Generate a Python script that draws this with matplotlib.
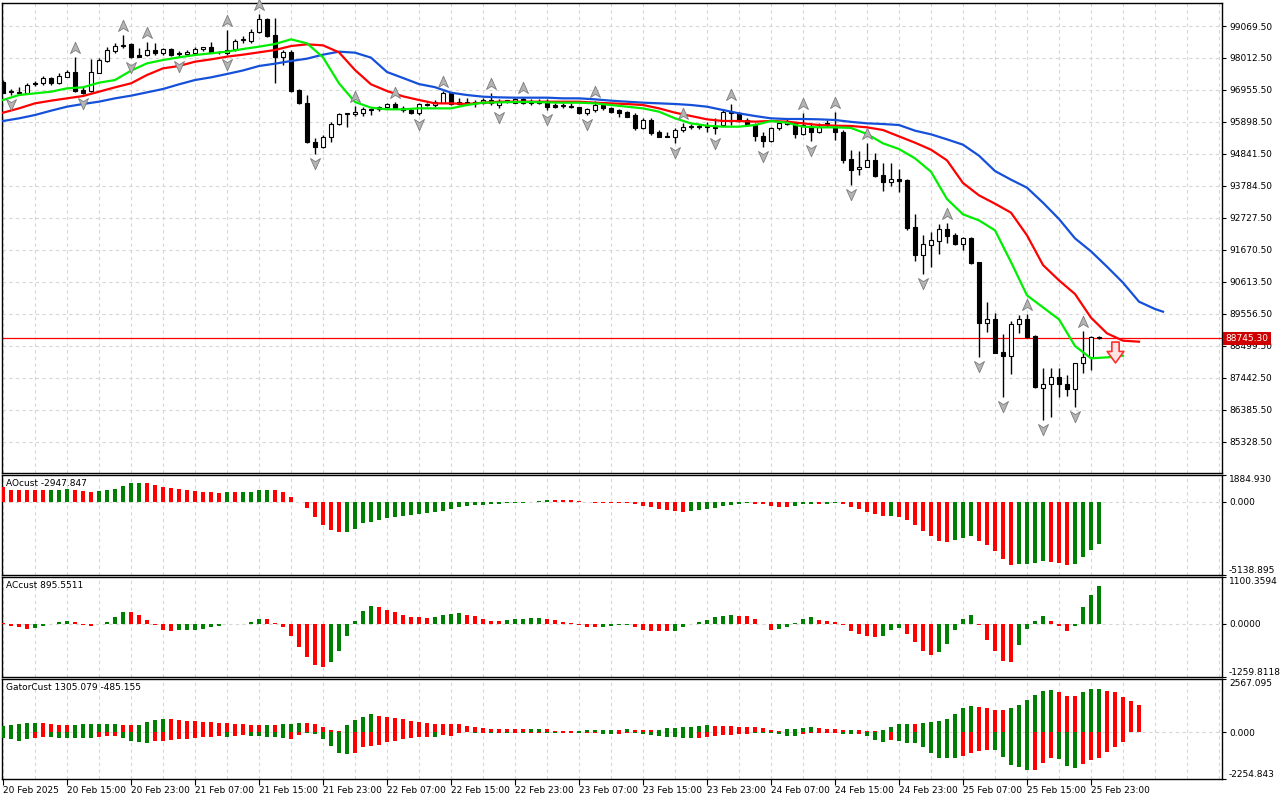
import numpy as np
import matplotlib
matplotlib.use("Agg")
import matplotlib.pyplot as plt
from matplotlib.path import Path
from matplotlib.transforms import offset_copy, blended_transform_factory

# hourly bars, 20 Feb 2025 07:00 .. 26 Feb 00:00
open_ = [97229, 96890, 96880, 96865, 97196, 97174, 97339, 97174, 97394, 97560,
         96953, 96931, 97527, 97923, 98254, 98440, 98463, 98111, 98111, 98276,
         98188, 98298, 98166, 98144, 98188, 98298, 98364, 98221, 98188, 98298,
         98600, 98585, 98882, 99290, 98772, 98056, 98221, 96953, 96513, 95245,
         95058, 95389, 95830, 96170, 96149, 96204, 96293, 96326, 96381, 96491,
         96347, 96293, 96204, 96491, 96457, 96534, 96843, 96556, 96490, 96556,
         96534, 96622, 96457, 96600, 96534, 96645, 96600, 96534, 96600, 96457,
         96420, 96410, 96380, 96182, 96292, 96457, 96369, 96292, 96237, 96127,
         95708, 95962, 95554, 95433, 95389, 95631, 95740, 95774, 95740, 95740,
         95796, 96237, 96182, 95962, 95796, 95433, 95278, 95686, 95829, 95851,
         95488, 95741, 95576, 95873, 95741, 95576, 94662, 94331, 94419, 94640,
         94144, 93923, 94000, 93978, 92414, 91499, 91830, 91973, 92347, 92160,
         91863, 92050, 91257, 89262, 89372, 88281, 88171, 89207, 89372, 88821,
         87113, 87223, 87455, 87223, 87058, 87917, 88138, 88777]
high = [97284, 96999, 97040, 97174, 97251, 97416, 97394, 97527, 97615, 98056,
        97040, 97967, 98001, 98386, 98496, 98772, 98496, 98331, 98540, 98496,
        98353, 98331, 98243, 98276, 98386, 98386, 98552, 98254, 98937, 98629,
        98739, 98959, 99466, 99323, 99323, 98276, 98276, 96980, 96788, 95356,
        95466, 95907, 96204, 96204, 96425, 96381, 96347, 96425, 96535, 96560,
        96425, 96347, 96513, 96530, 96622, 96931, 96865, 96678, 96678, 96622,
        96678, 96843, 96645, 96622, 96678, 96720, 96645, 96645, 96645, 96512,
        96512, 96512, 96402, 96347, 96580, 96534, 96402, 96314, 96270, 96182,
        96017, 96017, 95631, 95576, 95686, 95851, 95818, 95830, 95907, 96017,
        96314, 96490, 96237, 96017, 95851, 95576, 95741, 95940, 95984, 95906,
        96182, 95873, 95851, 95962, 96237, 95631, 94970, 94948, 95213, 94860,
        94529, 94551, 94331, 94000, 92843, 92160, 92270, 92524, 92560, 92215,
        92105, 92105, 91278, 89956, 89570, 88887, 89317, 89515, 89560, 88854,
        87752, 87752, 87752, 87532, 87940, 88997, 88810, 88810]
low = [96843, 96788, 96810, 96821, 97086, 97119, 97119, 97152, 97372, 96898,
       96810, 96898, 97505, 97890, 98188, 98331, 98000, 98034, 98078, 98111,
       98111, 98078, 98050, 98111, 98144, 98254, 98166, 98144, 98120, 98254,
       98496, 98518, 98849, 98717, 97174, 97780, 96898, 96491, 95212, 94838,
       95025, 95245, 95797, 95741, 96094, 96094, 96127, 96270, 96347, 96315,
       96237, 96160, 96130, 96440, 96402, 96512, 96457, 96457, 96457, 96402,
       96490, 96457, 96347, 96512, 96512, 96490, 96457, 96490, 96300, 96347,
       96347, 96347, 96160, 96120, 96237, 96292, 96204, 96050, 96050, 95631,
       95653, 95466, 95389, 95389, 95212, 95576, 95653, 95653, 95576, 95499,
       95774, 95796, 95906, 95763, 95278, 95080, 95245, 95631, 95796, 95356,
       95466, 95278, 95521, 95741, 95300, 94551, 93800, 94144, 94397, 94089,
       93626, 93780, 93593, 92325, 91312, 90871, 91113, 91532, 91885, 91830,
       91664, 91201, 88138, 88964, 88248, 86815, 87565, 88909, 88744, 87091,
       86044, 86132, 86793, 86837, 86463, 87587, 87700, 88722]
close = [96865, 96900, 96860, 97119, 97141, 97339, 97174, 97416, 97560, 96931,
         96865, 97560, 97945, 98276, 98408, 98410, 98056, 98056, 98276, 98188,
         98298, 98111, 98133, 98221, 98298, 98364, 98188, 98200, 98276, 98585,
         98610, 98882, 99290, 98750, 98056, 98221, 96931, 96513, 95245, 95058,
         95411, 95830, 96160, 96182, 96237, 96315, 96300, 96381, 96491, 96347,
         96293, 96204, 96491, 96470, 96567, 96843, 96490, 96490, 96567, 96512,
         96622, 96534, 96600, 96610, 96645, 96534, 96540, 96600, 96402, 96380,
         96424, 96402, 96182, 96314, 96457, 96347, 96237, 96204, 96072, 95686,
         95962, 95521, 95411, 95389, 95631, 95719, 95745, 95719, 95740, 95700,
         96237, 96180, 95940, 95796, 95433, 95278, 95686, 95851, 95907, 95488,
         95796, 95576, 95741, 95829, 95554, 94639, 94300, 94419, 94640, 94111,
         93923, 94000, 93956, 92380, 91499, 91863, 91995, 92347, 92127, 91863,
         92050, 91223, 89262, 89372, 88270, 88171, 89207, 89372, 88799, 87146,
         87223, 87455, 87223, 87058, 87917, 88138, 88777, 88745.3]

# alligator lines (read every second bar, already shifted forward)
lips_x = list(range(0, 141, 2))
lips = [96623, 96788, 96843, 96898, 97009, 97042, 97196, 97284, 97593, 97835,
        97945, 98034, 98111, 98166, 98221, 98309, 98386, 98475, 98629, 98497,
        98034, 97174, 96557, 96370, 96315, 96315, 96348, 96347, 96347, 96457,
        96534, 96545, 96556, 96556, 96545, 96534, 96534, 96512, 96457, 96402,
        96347, 96237, 96017, 95851, 95774, 95741, 95741, 95796, 95929, 95873,
        95741, 95719, 95719, 95700, 95500, 95190, 95003, 94694, 94253, 93350,
        92843, 92644, 92314, 91267, 90165, 89768, 89371, 88490, 88082, 88115,
        88170]
teeth_x = list(range(0, 143, 2))
teeth = [96204, 96347, 96513, 96601, 96678, 96755, 96898, 97042, 97174, 97450,
         97670, 97747, 97890, 97967, 98056, 98122, 98199, 98276, 98408, 98464,
         98430, 98199, 97615, 97141, 96921, 96744, 96623, 96512, 96512, 96490,
         96534, 96567, 96567, 96567, 96567, 96567, 96567, 96534, 96512, 96490,
         96457, 96347, 96204, 96094, 95984, 95929, 95929, 95907, 95929, 95907,
         95851, 95796, 95774, 95764, 95720, 95631, 95421, 95212, 94981, 94628,
         93879, 93471, 93195, 92898, 92148, 91168, 90661, 90209, 89427, 88909,
         88666, 88633]
jaw_x = list(range(0, 145, 2)) + [145]
jaw = [95929, 96017, 96127, 96270, 96403, 96491, 96568, 96678, 96766, 96876,
       96987, 97141, 97284, 97372, 97483, 97600, 97747, 97824, 97913, 97990,
       98122, 98221, 98188, 98023, 97549, 97351, 97150, 97047, 96865, 96788,
       96733, 96711, 96700, 96700, 96700, 96678, 96678, 96645, 96601, 96567,
       96535, 96513, 96491, 96458, 96402, 96292, 96182, 96094, 96017, 95995,
       95995, 95984, 95962, 95900, 95852, 95829, 95796, 95609, 95488, 95322,
       95146, 94782, 94275, 93989, 93724, 93228, 92689, 92049, 91620, 91113,
       90584, 89956, 89713, 89625]

fractal_up = [9, 15, 18, 28, 32, 44, 49, 55, 61, 65, 74, 85, 91, 100, 104, 108, 118, 128, 135]
fractal_dn = [1, 10, 16, 22, 28, 39, 52, 62, 68, 73, 84, 89, 95, 101, 106, 115, 122, 125, 130, 134]
signal_bar, signal_price = 139, 88290
last_price = 88745.30

ao = [1053, 866, 866, 866, 819, 819, 830, 866, 880, 819,
      749, 702, 749, 866, 936, 1147, 1288, 1300, 1288, 1217,
      1053, 983, 913, 819, 749, 702, 690, 632, 679, 660,
      679, 700, 800, 866, 819, 679, 351, 20, -421, -1077,
      -1639, -2013, -2130, -2120, -1873, -1475, -1405, -1288, -1124, -1053,
      -960, -890, -820, -773, -726, -655, -538, -375, -304, -234,
      -230, -187, -117, -94, -80, -47, -23, 70, 140, 138,
      135, 117, 47, -23, -47, -50, -60, -70, -94, -117,
      -258, -351, -538, -562, -655, -680, -655, -585, -538, -421,
      -304, -211, -164, -94, -117, -164, -304, -351, -360, -304,
      -164, -140, -150, -140, -94, -164, -351, -492, -726, -843,
      -1007, -990, -1077, -1288, -1639, -2060, -2411, -2716, -2833, -2692,
      -2575, -2411, -2716, -3043, -3465, -4050, -4448, -4401, -4354, -4284,
      -4167, -4200, -4331, -4448, -4401, -3886, -3395, -2947.847]
ao_col = ("rrrrrr" "ggg" "rrr" "gggggg" "rrrrrrrrrr" "g" "r" "gggg" "rrrrrrrrr"
          + "g" * 26 + "r" * 17 + "g" * 8 + "rrrrr" "ggg" "r" "gg" "rrrrrr" "g"
          "rrrrrrr" "ggg" "rrrrr" "gggg" "rrr" "gggg")

ac = [20, -47, -79, -126, -102, -63, -8, 31, 71, 39,
      -39, -63, -8, 47, 149, 283, 280, 212, 94, -39,
      -142, -165, -142, -140, -142, -118, -87, -63, -20, -12,
      -5, 31, 118, 110, 16, -87, -283, -559, -795, -968,
      -1031, -913, -637, -299, 71, 307, 409, 386, 330, 267,
      212, 165, 149, 140, 149, 197, 236, 240, 212, 173,
      118, 71, 65, 94, 100, 118, 134, 140, 118, 94,
      39, 24, -39, -87, -90, -79, -47, -31, -25, -79,
      -142, -165, -181, -185, -165, -79, -8, 39, 94, 149,
      173, 197, 190, 173, 118, -8, -142, -135, -79, 8,
      118, 149, 87, 55, 39, -31, -181, -244, -299, -323,
      -299, -157, -102, -236, -441, -637, -732, -677, -472, -157,
      118, 212, -39, -378, -637, -889, -895, -496, -118, 71,
      173, 71, -63, -165, -63, 386, 684, 895.5511]
ac_col = ("rrrr" "ggggg" "rrr" "gggg" "rrrrrr" + "g" * 11 + "r" * 8 + "gggggg"
          "rrrrrrr" "gggg" "rrrrr" "ggggg" "rrrrrrr" "gggg" "rrrrr" + "g" * 8
          + "rrrrr" "ggggg" + "r" * 8 + "ggg" "rrrr" "ggggg" "rrrrr" "gggg" "rrr" "gggg")

gator_up = [305, 354, 386, 434, 466, 460, 386, 337, 330, 354,
            402, 405, 408, 410, 412, 354, 350, 360, 514, 595,
            643, 640, 595, 562, 546, 514, 482, 434, 430, 402,
            386, 370, 354, 360, 355, 386, 402, 450, 434, 386,
            273, 112, 80, 354, 595, 755, 868, 804, 755, 675,
            627, 562, 514, 450, 402, 400, 398, 396, 321, 273,
            193, 161, 160, 158, 156, 145, 150, 155, 150, 80,
            48, 45, 80, 112, 115, 118, 120, 115, 161, 120,
            115, 110, 115, 193, 225, 241, 273, 321, 354, 321,
            315, 305, 273, 270, 241, 193, 112, 80, 145, 161,
            225, 273, 225, 177, 145, 112, 130, 125, 80, 75,
            129, 273, 402, 410, 405, 450, 514, 562, 643, 884,
            1157, 1286, 1237, 1173, 1093, 1090, 1157, 1318, 1559, 1800,
            2009, 2057, 1961, 1768, 1760, 1961, 2089, 2095, 2009, 1928,
            1720, 1527, 1305.079]
gator_up_col = ("ggggg" "rrrr" "gggggg" "rr" "gggg" + "r" * 12 + "g" "r" "ggg" "rrrrr"
                "gggg" + "r" * 19 + "gg" "rrrr" "ggggg" "r" "g" "rrr" "ggggggg"
                + "r" * 9 + "gggg" "rrrr" "g" "rrr" "gggg" "r" "ggggggg" "rrrr"
                "gggggg" "rrr" "ggg" "rrrrr")
gator_dn = [-289, -337, -402, -337, -289, -209, -209, -257, -257, -257,
            -257, -257, -209, -161, -161, -257, -402, -450, -498, -418,
            -402, -370, -337, -337, -289, -209, -209, -161, -209, -161,
            -129, -161, -165, -209, -215, -289, -321, -129, -48, -80,
            -337, -643, -980, -1061, -980, -691, -680, -611, -450, -418,
            -337, -257, -241, -209, -209, -129, -161, -48, -10, -32,
            -30, -32, -16, -32, -16, -32, -30, -28, -32, -32,
            -16, -16, -20, -48, -48, -80, -80, -80, -32, -48,
            -80, -129, -161, -209, -209, -257, -289, -289, -209, -161,
            -129, -129, -96, -80, -48, -32, -48, -80, -161, -161,
            -80, -32, -32, -32, -32, -80, -80, -75, -161, -370,
            -482, -370, -434, -530, -530, -723, -1012, -1237, -1240, -1245,
            -1125, -1012, -884, -852, -852, -1205, -1559, -1655, -1816, -1816,
            -1495, -1237, -1302, -1623, -1736, -1527, -1334, -1237, -964, -691,
            -485.155]
gator_dn_col = ("gggg" "rr" "gggggg" "rrr" "gggg" + "r" * 9 + "g" "rr" "ggggg" "rr"
                "gggggg" + "r" * 10 + "g" "rrrr" "g" "r" "g" "r" "g" "r" "g" "rr"
                "gg" "rr" "g" "rr" "gg" "rr" + "g" * 8 + "r" * 7 + "gggggg" "rrrrr"
                "gg" "r" "ggg" "r" + "g" * 8 + "rrrr" "ggggg" "rrr" "ggg" "rrrrrr")

price_ticks = [99069.5, 98012.5, 96955.5, 95898.5, 94841.5, 93784.5, 92727.5,
               91670.5, 90613.5, 89556.5, 88499.5, 87442.5, 86385.5, 85328.5]
ao_range = (-5138.895, 1884.930)
ac_range = (-1259.8118, 1100.3594)
gator_range = (-2254.843, 2567.095)
time_labels = ["20 Feb 2025", "20 Feb 15:00", "20 Feb 23:00", "21 Feb 07:00", "21 Feb 15:00",
               "21 Feb 23:00", "22 Feb 07:00", "22 Feb 15:00", "22 Feb 23:00", "23 Feb 07:00",
               "23 Feb 15:00", "23 Feb 23:00", "24 Feb 07:00", "24 Feb 15:00", "24 Feb 23:00",
               "25 Feb 07:00", "25 Feb 15:00", "25 Feb 23:00"]

GREEN, RED = '#008000', '#ff0000'
colmap = {'g': GREEN, 'r': RED}
FS = 6.5
bars = np.arange(len(close))

fig = plt.figure(figsize=(12.8, 8), dpi=100)
W, H = 1280.0, 800.0


def panel(top, bottom):
    return fig.add_axes([2 / W, 1 - bottom / H, 1220 / W, (bottom - top) / H])


ax = panel(3, 473)
ax_ao = panel(475, 575)
ax_ac = panel(577, 677)
ax_gt = panel(679, 779)


def style(a, ticks, fmt, edge_labels=True):
    a.set_xlim(-0.125, 152.375)
    a.yaxis.tick_right()
    a.set_yticks(ticks)
    a.set_yticklabels([fmt % v for v in ticks])
    a.tick_params(axis='y', length=3, width=0.8, pad=2, labelsize=FS, direction='out')
    a.tick_params(axis='x', length=0, labelbottom=False)
    for s in a.spines.values():
        s.set_linewidth(1.0)
        s.set_color('black')
    for g in range(0, 153, 4):
        a.axvline(g, color='#d6d6d6', lw=0.8, ls=(0, (3, 3)), zorder=0)
    if edge_labels:
        labs = a.get_yticklabels()
        labs[0].set_va('bottom')
        labs[-1].set_va('top')


# ---- main price panel ----
ax.set_ylim(84292, 99830)
style(ax, price_ticks, '%.2f', edge_labels=False)
for p in price_ticks:
    ax.axhline(p, color='#d6d6d6', lw=0.8, ls=(0, (3, 3)), zorder=0)

o = np.array(open_); c = np.array(close)
bull = c >= o
ax.vlines(bars, low, high, color='black', lw=1.0, zorder=3)
body_h = np.maximum(np.abs(c - o), 25)
ax.bar(bars, body_h, bottom=np.minimum(o, c), width=0.6,
       color=np.where(bull, 'white', 'black'), edgecolor='black', lw=0.8, zorder=4)

ax.plot(jaw_x, jaw, color='#1550d8', lw=1.6, zorder=5)
ax.plot(teeth_x, teeth, color='#ff0000', lw=1.6, zorder=5)
ax.plot(lips_x, lips, color='#00ee00', lw=1.6, zorder=5)

ax.axhline(last_price, color='#ff0000', lw=0.9, zorder=2)

up_path = Path([(0, 1), (0.8, -0.8), (0, -0.3), (-0.8, -0.8), (0, 1)],
               [Path.MOVETO, Path.LINETO, Path.LINETO, Path.LINETO, Path.CLOSEPOLY])
dn_path = Path([(0, -1), (0.8, 0.8), (0, 0.3), (-0.8, 0.8), (0, -1)],
               [Path.MOVETO, Path.LINETO, Path.LINETO, Path.LINETO, Path.CLOSEPOLY])
up_tr = offset_copy(ax.transData, fig=fig, x=0, y=9, units='dots')
dn_tr = offset_copy(ax.transData, fig=fig, x=0, y=-9, units='dots')
ax.plot(fractal_up, [high[i] for i in fractal_up], ls='none', marker=up_path, ms=9,
        mfc='#b4b4b4', mec='#7c7c7c', mew=0.6, transform=up_tr, zorder=6, clip_on=False)
ax.plot(fractal_dn, [low[i] for i in fractal_dn], ls='none', marker=dn_path, ms=9,
        mfc='#b4b4b4', mec='#7c7c7c', mew=0.6, transform=dn_tr, zorder=6)

sig_path = Path([(-0.35, 1), (0.35, 1), (0.35, 0.1), (0.8, 0.1), (0, -1), (-0.8, 0.1),
                 (-0.35, 0.1), (-0.35, 1)],
                [Path.MOVETO] + [Path.LINETO] * 6 + [Path.CLOSEPOLY])
ax.plot([signal_bar], [signal_price], ls='none', marker=sig_path, ms=15,
        mfc='#ffe4e4', mec='#ff3030', mew=1.2, zorder=7)

btr = blended_transform_factory(ax.transAxes, ax.transData)
ax.text(1.003, last_price, '%.2f' % last_price, transform=btr, color='white', fontsize=FS,
        va='center', ha='left', clip_on=False, zorder=20,
        bbox=dict(boxstyle='square,pad=0.25', fc='#d00000', ec='none'))

# ---- AO ----
ax_ao.set_ylim(*ao_range)
style(ax_ao, [ao_range[0], 0, ao_range[1]], '%.3f')
ax_ao.axhline(0, color='#d6d6d6', lw=0.8, ls=(0, (3, 3)), zorder=0)
ax_ao.bar(bars, ao, width=0.5, color=[colmap[k] for k in ao_col], zorder=3)
ax_ao.text(0.0033, 0.96, 'AOcust %.3f' % ao[-1], transform=ax_ao.transAxes,
           va='top', ha='left', fontsize=FS)

# ---- AC ----
ax_ac.set_ylim(*ac_range)
style(ax_ac, [ac_range[0], 0, ac_range[1]], '%.4f')
ax_ac.axhline(0, color='#d6d6d6', lw=0.8, ls=(0, (3, 3)), zorder=0)
ax_ac.bar(bars, ac, width=0.5, color=[colmap[k] for k in ac_col], zorder=3)
ax_ac.text(0.0033, 0.96, 'ACcust %.4f' % ac[-1], transform=ax_ac.transAxes,
           va='top', ha='left', fontsize=FS)

# ---- Gator ----
ax_gt.set_ylim(*gator_range)
style(ax_gt, [gator_range[0], 0, gator_range[1]], '%.3f')
ax_gt.axhline(0, color='#d6d6d6', lw=0.8, ls=(0, (3, 3)), zorder=0)
ax_gt.bar(np.arange(len(gator_up)), gator_up, width=0.5,
          color=[colmap[k] for k in gator_up_col], zorder=3)
ax_gt.bar(np.arange(len(gator_dn)), gator_dn, width=0.5,
          color=[colmap[k] for k in gator_dn_col], zorder=3)
ax_gt.text(0.0033, 0.96, 'GatorCust %.3f %.3f' % (gator_up[-1], gator_dn[-1]),
           transform=ax_gt.transAxes, va='top', ha='left', fontsize=FS)

ax_gt.set_xticks(range(0, 8 * len(time_labels), 8))
ax_gt.set_xticklabels(time_labels, ha='left')
ax_gt.tick_params(axis='x', length=4, width=0.8, labelbottom=True, labelsize=FS, pad=1)

fig.savefig('out.png', dpi=100, facecolor='white')
